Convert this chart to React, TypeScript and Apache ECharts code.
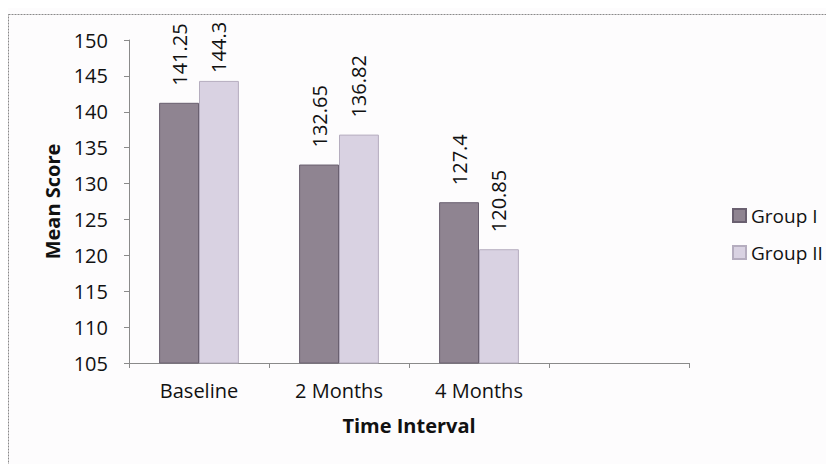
import React, { useEffect, useRef } from "react";
import * as echarts from "echarts";

const categories = ["Baseline", "2 Months", "4 Months", ""];
const groupI = [141.25, 132.65, 127.4];
const groupII = [144.3, 136.82, 120.85];
const seriesNames = ["Group I", "Group II"];

const FONT = "'Open Sans', 'Noto Sans', sans-serif";

export default function App() {
  const ref = useRef<HTMLDivElement>(null);
  useEffect(() => {
    if (!ref.current) return;
    const chart = echarts.init(ref.current, undefined, { renderer: "svg" });
    const label = {
      show: true,
      position: "top" as const,
      rotate: 90,
      align: "left" as const,
      verticalAlign: "middle" as const,
      distance: 17,
      fontSize: 20,
      fontFamily: FONT,
      color: "#111",
    };
    chart.setOption({
      animation: false,
      backgroundColor: "#fdfcfd",
      textStyle: { fontFamily: FONT },
      graphic: [
        {
          type: "rect",
          shape: { x: 0.5, y: 6.5, width: 1000, height: 1000 },
          style: { fill: "none", stroke: "#8a8a8a", lineWidth: 1, lineDash: [2, 1] },
          silent: true,
        },
      ],
      grid: { left: 121, right: 145, top: 32, bottom: 101 },
      legend: {
        orient: "vertical",
        left: 719,
        top: 193,
        itemWidth: 13,
        itemHeight: 13,
        itemGap: 18,
        icon: "rect",
        textStyle: { fontSize: 19, color: "#111", fontFamily: FONT },
        data: seriesNames,
      },
      xAxis: {
        type: "category",
        data: categories,
        name: "Time Interval",
        nameLocation: "middle",
        nameGap: 52,
        nameTextStyle: { fontSize: 20, fontWeight: "bold", color: "#111", fontFamily: FONT },
        axisLine: { lineStyle: { color: "#8a8a8a" } },
        axisTick: { show: true, length: 5, lineStyle: { color: "#8a8a8a" } },
        axisLabel: { fontSize: 20, color: "#111", margin: 17, fontFamily: FONT },
      },
      yAxis: {
        type: "value",
        min: 105,
        max: 150,
        interval: 5,
        name: "Mean Score",
        nameLocation: "middle",
        nameGap: 66,
        nameTextStyle: { fontSize: 20, fontWeight: "bold", color: "#111", fontFamily: FONT },
        axisLine: { show: true, lineStyle: { color: "#8a8a8a" } },
        axisTick: { show: true, length: 5, lineStyle: { color: "#8a8a8a" } },
        splitLine: { show: false },
        axisLabel: { fontSize: 20, color: "#111", margin: 21, fontFamily: FONT },
      },
      series: [
        {
          name: seriesNames[0],
          type: "bar",
          data: groupI,
          barGap: "0%",
          barCategoryGap: "43%",
          itemStyle: { color: "#8f8491", borderColor: "#6a6070", borderWidth: 1 },
          label,
        },
        {
          name: seriesNames[1],
          type: "bar",
          data: groupII.map((v, i) => (i === 0 ? { value: v, label: { distance: 8 } } : v)),
          itemStyle: { color: "#d9d2e2", borderColor: "#b5adbf", borderWidth: 1 },
          label,
        },
      ],
    });
    return () => chart.dispose();
  }, []);
  return <div ref={ref} style={{ width: 826, height: 456 }} />;
}
